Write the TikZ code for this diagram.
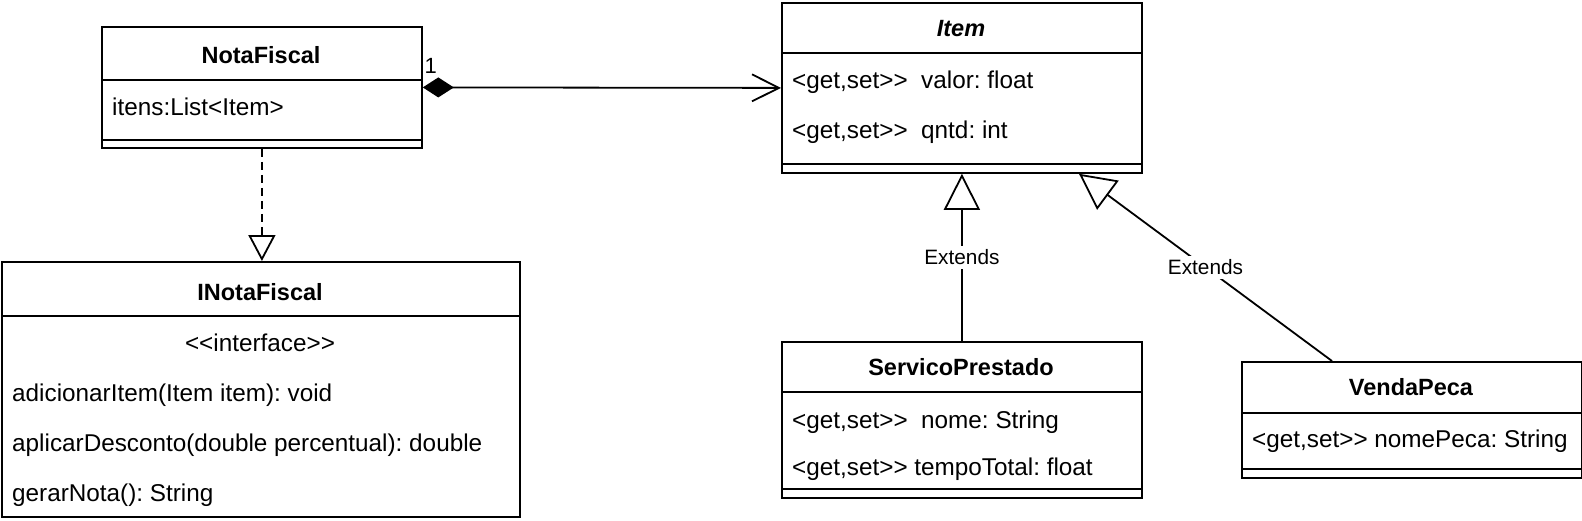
\documentclass[tikz,border=0pt]{standalone}
\usepackage{fontspec}
\setmainfont{Liberation Sans}[Ligatures=TeXOff]
\usetikzlibrary{arrows.meta,calc}
\frenchspacing

\tikzset{
  umlline/.style={line width=1.8pt},
  umlbox/.style 2 args={draw, line width=1.8pt, anchor=north west, inner sep=0pt,
    minimum width=#1, minimum height=#2},
  classname/.style={anchor=base, inner sep=0pt, font=\fontsize{23.5}{28}\selectfont\bfseries},
  member/.style={anchor=base west, inner sep=0pt, font=\fontsize{24.3}{28}\selectfont},
  extlabel/.style={fill=white, inner sep=4pt, font=\fontsize{20.8}{24}\selectfont},
}

\begin{document}
\begin{tikzpicture}[x=1pt, y=-1pt]
  \useasboundingbox (0,0) rectangle (1582,520);

  % NotaFiscal
  \node[umlbox={320}{121}] (nf) at (101,26) {};
  \draw[umlline] (101,80) -- (421,80);
  \draw[umlline] (101,140) -- (421,140);
  \node[classname] (nfname) at (261,63) {NotaFiscal};
  \node[member] (nfitens) at (112,115) {itens:List<Item>};

  % Item (abstract)
  \node[umlbox={360}{170}] (item) at (781,2) {};
  \draw[umlline] (781,53) -- (1141,53);
  \draw[umlline] (781,164) -- (1141,164);
  \node[classname, font=\fontsize{23.5}{28}\selectfont\bfseries\itshape] (itemname) at (961,36) {Item};
  \node[member] (itemvalor) at (792,88) {<get,set>>\ \ valor: float};
  \node[member] (itemqntd) at (792,138) {<get,set>>\ \ qntd: int};

  % INotaFiscal
  \node[umlbox={518}{255}] (inf) at (1,261) {};
  \draw[umlline] (1,316) -- (519,316);
  \node[classname] (infname) at (260,300) {INotaFiscal};
  \node[member, anchor=base] (infstereo) at (260,351) {<<interface>>};
  \node[member] (infadd) at (12,401) {adicionarItem(Item item): void};
  \node[member] (infdesc) at (12,451) {aplicarDesconto(double percentual): double};
  \node[member] (infgerar) at (12,501) {gerarNota(): String};

  % ServicoPrestado
  \node[umlbox={360}{156}] (sp) at (781,341) {};
  \draw[umlline] (781,392) -- (1141,392);
  \draw[umlline] (781,489) -- (1141,489);
  \node[classname] (spname) at (961,375) {ServicoPrestado};
  \node[member] (spnome) at (792,428) {<get,set>>\ \ nome: String};
  \node[member] (sptempo) at (792,475) {<get,set>> tempoTotal: float};

  % VendaPeca
  \node[umlbox={340}{116}] (vp) at (1241,361) {};
  \draw[umlline] (1241,413) -- (1581,413);
  \draw[umlline] (1241,469) -- (1581,469);
  \node[classname] (vpname) at (1411,395) {VendaPeca};
  \node[member] (vpnome) at (1252,447) {<get,set>> nomePeca: String};

  % composition NotaFiscal -> Item
  \draw[umlline, {Diamond[length=31pt,width=20pt]}-{Straight Barb[length=27pt,width=27pt]}]
    (nf.east) -- (item.west);
  \node[inner sep=0pt, font=\fontsize{22}{26}\selectfont] (mult) at ($(nf.east)+(8,-21)$) {1};

  % realization NotaFiscal -> INotaFiscal
  \draw[umlline, dash pattern=on 8pt off 5pt, -{Triangle[open,length=26pt,width=27pt]}]
    (nf.south) -- (nf.south |- inf.north);

  % generalizations
  \draw[umlline, -{Triangle[open,length=36pt,width=36pt]}] (sp.north) -- (item.south)
    node[extlabel, pos=0.5] (ext1) {Extends};
  \coordinate (vptop) at ($(vp.north west)+(91,0)$);
  \coordinate (itemfoot) at ($(item.south west)+(298,0)$);
  \draw[umlline, -{Triangle[open,length=36pt,width=36pt]}] (vptop) -- (itemfoot)
    node[extlabel, pos=0.5] (ext2) {Extends};
\end{tikzpicture}
\end{document}
